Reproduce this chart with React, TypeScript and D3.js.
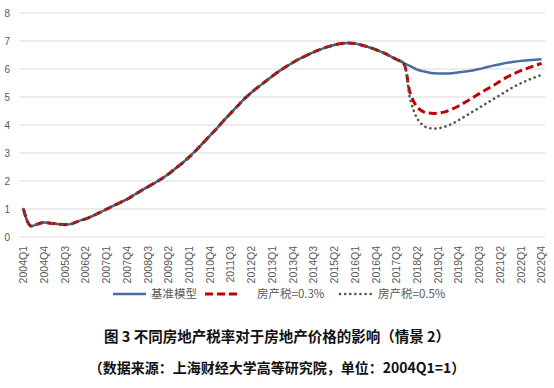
import React, { useRef, useEffect } from "react";
import * as d3 from "d3";

// quarters 2004Q1 .. 2022Q4
const years = d3.range(2004, 2023);
const quarters: string[] = [];
years.forEach((y) => ["Q1", "Q2", "Q3", "Q4"].forEach((q) => quarters.push(`${y}${q}`)));

// every third quarter is labelled
const tickLabels = quarters.filter((_, i) => i % 3 === 0);

const yTicks = [0, 1, 2, 3, 4, 5, 6, 7, 8];

const baseline = [
  1.0, 0.4, 0.46, 0.52, 0.49, 0.46, 0.44, 0.47, 0.57, 0.65,
  0.75, 0.87, 0.99, 1.11, 1.23, 1.35, 1.5, 1.65, 1.79, 1.93,
  2.08, 2.25, 2.45, 2.64, 2.86, 3.1, 3.36, 3.62, 3.88, 4.16,
  4.42, 4.68, 4.94, 5.16, 5.36, 5.55, 5.74, 5.92, 6.08, 6.23,
  6.37, 6.49, 6.6, 6.7, 6.79, 6.86, 6.91, 6.93, 6.91, 6.85,
  6.78, 6.69, 6.59, 6.47, 6.34, 6.22, 6.1, 5.98, 5.91, 5.86,
  5.84, 5.84, 5.85, 5.88, 5.91, 5.95, 6.0, 6.06, 6.12, 6.17,
  6.22, 6.26, 6.29, 6.31, 6.33, 6.35,
];

// after 2017Q4 the tax scenarios split off
const tax03Tail = [
  5.12, 4.64, 4.46, 4.42, 4.42, 4.47, 4.56, 4.68, 4.82, 4.97,
  5.12, 5.27, 5.41, 5.56, 5.71, 5.83, 5.94, 6.03, 6.12, 6.2,
];
const tax05Tail = [
  4.9, 4.24, 3.96, 3.88, 3.88, 3.94, 4.04, 4.17, 4.32, 4.47,
  4.62, 4.77, 4.92, 5.07, 5.22, 5.37, 5.49, 5.6, 5.7, 5.79,
];
const tax03 = [...baseline.slice(0, 56), ...tax03Tail];
const tax05 = [...baseline.slice(0, 56), ...tax05Tail];

const series = [
  { name: "基准模型", values: baseline, color: "#4a6ea4", width: 2.5, dash: null, cap: "butt" },
  { name: "房产税=0.3%", values: tax03, color: "#c00000", width: 3, dash: "8,4", cap: "butt" },
  { name: "房产税=0.5%", values: tax05, color: "#4a5a48", width: 2.6, dash: "0.1,5", cap: "round" },
];

const App = () => {
  const svgRef = useRef<SVGSVGElement>(null);

  useEffect(() => {
    const width = 554;
    const height = 388;
    const svg = d3.select(svgRef.current).attr("width", width).attr("height", height);
    svg.selectAll("*").remove();

    svg.append("rect").attr("width", width).attr("height", height).attr("fill", "#ffffff");

    const x = d3.scalePoint<string>().domain(quarters).range([20, 545]).padding(0.5);
    const y = d3.scaleLinear().domain([0, 8]).range([237, 13]);

    // gridlines
    svg
      .append("g")
      .selectAll("line")
      .data(yTicks)
      .enter()
      .append("line")
      .attr("x1", 20)
      .attr("x2", 545)
      .attr("y1", (d) => y(d))
      .attr("y2", (d) => y(d))
      .attr("stroke", "#d9d9d9")
      .attr("stroke-width", 1);

    // y labels
    svg
      .append("g")
      .selectAll("text")
      .data(yTicks)
      .enter()
      .append("text")
      .attr("x", 10)
      .attr("y", (d) => y(d))
      .attr("dy", "0.35em")
      .attr("text-anchor", "end")
      .attr("fill", "#595959")
      .style("font", "10px 'Liberation Sans', sans-serif")
      .text((d) => d);

    // x labels, rotated
    svg
      .append("g")
      .selectAll("text")
      .data(tickLabels)
      .enter()
      .append("text")
      .attr("transform", (d) => `translate(${x(d)! + 3.8},246) rotate(-90)`)
      .attr("text-anchor", "end")
      .attr("fill", "#595959")
      .style("font", "10.5px 'Liberation Sans', sans-serif")
      .text((d) => d);

    const line = d3
      .line<number>()
      .x((_, i) => x(quarters[i])!)
      .y((d) => y(d))
      .curve(d3.curveCatmullRom.alpha(0.5));

    series.forEach((s) => {
      svg
        .append("path")
        .datum(s.values)
        .attr("d", line)
        .attr("fill", "none")
        .attr("stroke", s.color)
        .attr("stroke-width", s.width)
        .attr("stroke-linecap", s.cap)
        .attr("stroke-dasharray", s.dash);
    });

    // legend
    const legendX = [113, 205, 340];
    const legend = svg
      .append("g")
      .selectAll("g")
      .data(series)
      .enter()
      .append("g")
      .attr("transform", (_, i) => `translate(${legendX[i]},294)`);
    legend
      .append("line")
      .attr("x1", 0)
      .attr("x2", 33)
      .attr("stroke", (d) => d.color)
      .attr("stroke-width", (d) => d.width)
      .attr("stroke-linecap", (d) => d.cap)
      .attr("stroke-dasharray", (d) => d.dash);
    legend
      .append("text")
      .attr("x", (_, i) => (i === 1 ? 52 : 38))
      .attr("dy", "0.35em")
      .attr("fill", "#595959")
      .style("font", "11.5px 'Noto Sans CJK SC', sans-serif")
      .text((d) => d.name);

    // caption
    const caption = [
      { text: "图 3 不同房地产税率对于房地产价格的影响（情景 2）", y: 337, size: 14.5 },
      { text: "（数据来源：上海财经大学高等研究院，单位：2004Q1=1）", y: 368, size: 14 },
    ];
    svg
      .append("g")
      .selectAll("text")
      .data(caption)
      .enter()
      .append("text")
      .attr("x", 277)
      .attr("y", (d) => d.y)
      .attr("dy", "0.35em")
      .attr("text-anchor", "middle")
      .attr("fill", "#111111")
      .style("font", (d) => `bold ${d.size}px 'Noto Sans CJK SC', sans-serif`)
      .text((d) => d.text);
  }, []);

  return (
    <div style={{ position: "fixed", top: 0, left: 0 }}>
      <svg ref={svgRef} style={{ display: "block" }}></svg>
    </div>
  );
};

export default App;
